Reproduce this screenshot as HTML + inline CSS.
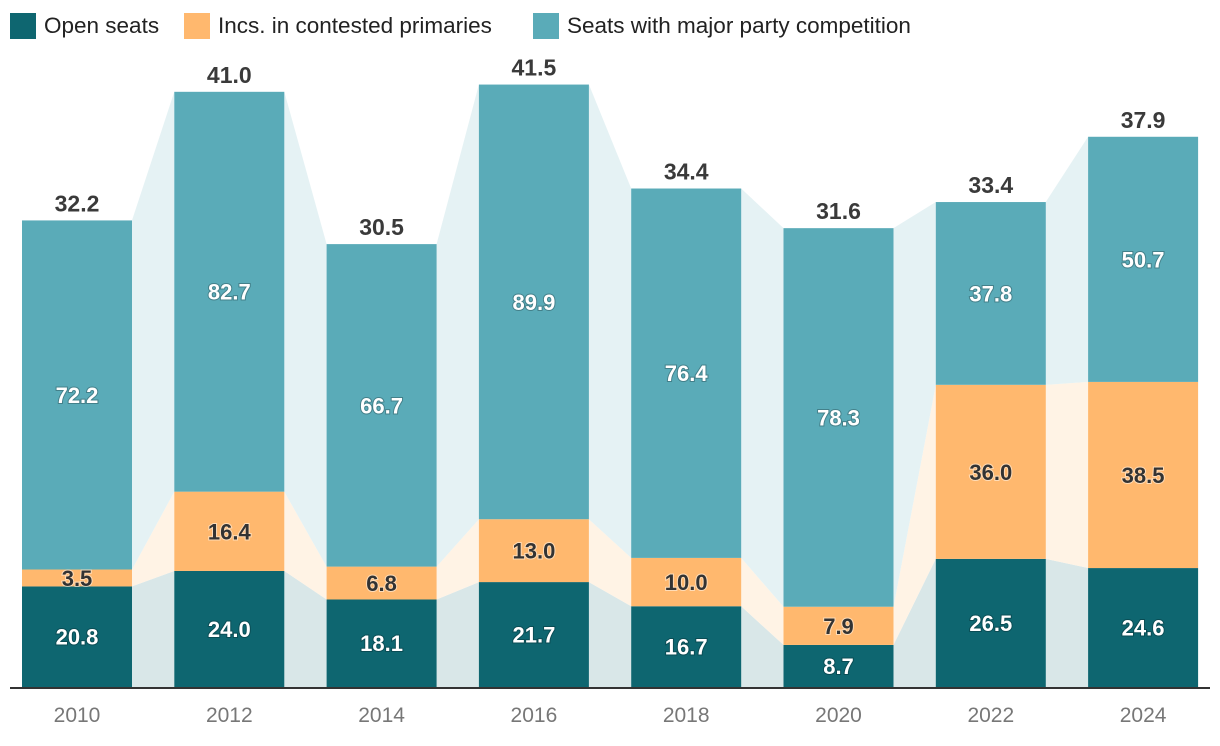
<!DOCTYPE html>
<html><head><meta charset="utf-8"><style>
body{margin:0;background:#fff;font-family:"Liberation Sans",sans-serif}
#wrap{position:relative;width:1220px;height:746px}
.leg{position:absolute;top:12px;height:28px;display:flex;align-items:center;font-size:22.5px;color:#222}
.leg i{display:inline-block;width:26px;height:26px;margin-right:8px;flex:none}
</style></head><body>
<div id="wrap">
<div class="leg" style="left:10px"><i style="background:#0e6670"></i>Open seats</div>
<div class="leg" style="left:184px"><i style="background:#ffb86e"></i>Incs. in contested primaries</div>
<div class="leg" style="left:533px"><i style="background:#5aabb8"></i>Seats with major party competition</div>
<svg id="svg" width="1220" height="746" style="position:absolute;left:0;top:0"></svg>
</div>
<script>
const years=["2010","2012","2014","2016","2018","2020","2022","2024"];
const openSeats=[20.8,24.0,18.1,21.7,16.7,8.7,26.5,24.6];
const incsContested=[3.5,16.4,6.8,13.0,10.0,7.9,36.0,38.5];
const majorParty=[72.2,82.7,66.7,89.9,76.4,78.3,37.8,50.7];
const totals=[32.2,41.0,30.5,41.5,34.4,31.6,33.4,37.9];
const NS="http://www.w3.org/2000/svg";
const svg=document.getElementById('svg');
const base=687, k=4.835, bw=110;
const y=v=>base-v*k;
const xl=i=>22+i*152.3;
function el(t,a){const e=document.createElementNS(NS,t);for(const n in a)e.setAttribute(n,a[n]);svg.appendChild(e);return e;}
const series=[openSeats,incsContested,majorParty];
const cols=["#0e6670","#ffb86e","#5aabb8"];
const light=["#d9e7e8","#fff3e5","#e5f2f4"];
const names=["open","incs","major"];
function stack(i){let s=0;return series.map(a=>{const b=s;s+=a[i];return [b,s];});}
for(let i=0;i<years.length-1;i++){
 const a=stack(i),b=stack(i+1);
 for(let s=0;s<3;s++){
  const x1=xl(i)+bw,x2=xl(i+1);
  const p=el('polygon',{points:`${x1},${y(a[s][0])} ${x1},${y(a[s][1])} ${x2},${y(b[s][1])} ${x2},${y(b[s][0])}`,fill:light[s]});
  
  
 }
}
for(let i=0;i<years.length;i++){
 const st=stack(i);
 for(let s=0;s<3;s++){
  const r=el('rect',{x:xl(i),y:y(st[s][1]),width:bw,height:y(st[s][0])-y(st[s][1]),fill:cols[s]});
  
  
  const t=el('text',{x:xl(i)+bw/2,y:(y(st[s][0])+y(st[s][1]))/2+8,'text-anchor':'middle','font-size':22,'font-weight':'bold',fill:s==1?'#333':'#fff',stroke:s==1?'rgba(255,255,255,0.5)':'rgba(0,0,0,0.25)','stroke-width':2,'paint-order':'stroke'});
  t.textContent=series[s][i].toFixed(1);
  
  
 }
 const tt=el('text',{x:xl(i)+bw/2,y:y(st[2][1])-9,'text-anchor':'middle','font-size':23,'font-weight':'bold',fill:'#3a3a3a'});
 tt.textContent=totals[i].toFixed(1);
 
 
 const yl=el('text',{x:xl(i)+bw/2,y:722,'text-anchor':'middle','font-size':21,fill:'#777'});
 yl.textContent=years[i];
 
 
}
const ax=el('line',{x1:10,x2:1210,y1:base+1,y2:base+1,stroke:'#333','stroke-width':2});


</script>
</body></html>
